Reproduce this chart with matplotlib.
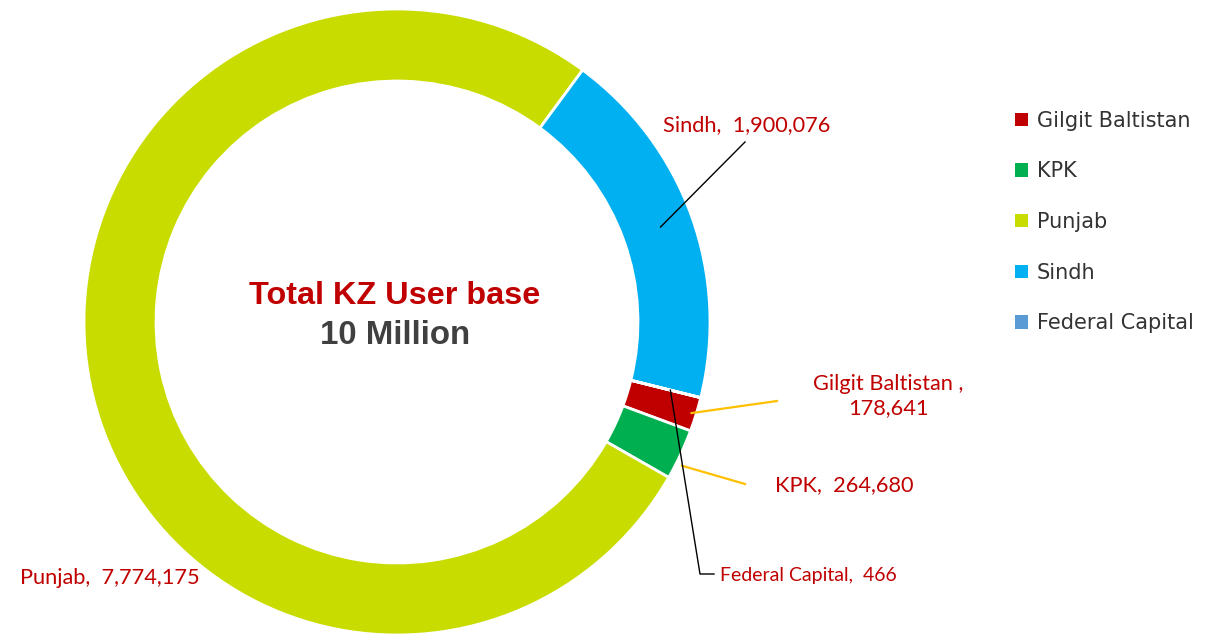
""" Donut chart of KZ user base by province. """

import numpy as np
from matplotlib import pyplot as plt
from matplotlib.patches import Patch

# Data (order as in the legend, drawn clockwise)
regions = ['Gilgit Baltistan', 'KPK', 'Punjab', 'Sindh', 'Federal Capital']
users = [178641, 264680, 7774175, 1900076, 466]
colors = ['#C00000', '#00B050', '#C9DC00', '#00B0F0', '#5B9BD5']

W, H = 1219, 634
red = '#C00000'


def py(y):
    # image row -> data y (axes spans the whole figure in pixels)
    return H - y


fig = plt.figure(figsize=(W / 100, H / 100), dpi=100)
ax = fig.add_axes([0, 0, 1, 1])
ax.set_xlim(0, W)
ax.set_ylim(0, H)
ax.axis('off')

# Donut
cx, cy, R = 397, py(322), 313
wedges, _ = ax.pie(users, colors=colors, radius=R, center=(cx, cy),
                   startangle=-14, counterclock=False,
                   wedgeprops=dict(width=72, edgecolor='white', linewidth=2))
ax.set_xlim(0, W)
ax.set_ylim(0, H)
ax.set_aspect('equal')


def anchor(w, rfrac, dth=0.):
    th = np.deg2rad(0.5 * (w.theta1 + w.theta2) + dth)
    return cx + rfrac * R * np.cos(th), cy + rfrac * R * np.sin(th)


lab_font = dict(family=['Lato', 'DejaVu Sans'], fontsize=15.7, color=red)

# Sindh
ax0, ay0 = anchor(wedges[3], 0.895)
ax.plot([ax0, 745], [ay0, py(142)], color='k', lw=1)
ax.text(747, py(125), f'Sindh,  {users[3]:,}', ha='center', va='center', **lab_font)

# Gilgit Baltistan
ax0, ay0 = anchor(wedges[0], 0.985)
ax.plot([ax0, 777], [ay0, py(401)], color='#FFC000', lw=1.6)
ax.text(888, py(396), f'Gilgit Baltistan ,\n{users[0]:,}', ha='center', va='center',
        linespacing=1.3, **lab_font)

# KPK
ax0, ay0 = anchor(wedges[1], 1.02, -1.7)
ax.plot([ax0, 745], [ay0, py(484)], color='#FFC000', lw=1.6)
ax.text(844, py(485), f'KPK,  {users[1]:,}', ha='center', va='center', **lab_font)

# Federal Capital
ax0, ay0 = anchor(wedges[4], 0.9)
ax.plot([ax0, 700, 714], [ay0, py(574), py(574)], color='k', lw=1)
ax.text(720, py(576), f'Federal Capital,  {users[4]:,}', ha='left', va='center',
        family=['Lato', 'DejaVu Sans'], fontsize=14, color=red)

# Punjab
ax.text(20, py(578), f'Punjab,  {users[2]:,}', ha='left', va='center', **lab_font)

# Centre text
ax.text(cx - 2, py(296), 'Total KZ User base', ha='center', va='center',
        family='Liberation Sans', fontweight='bold', fontsize=23.3, color=red)
ax.text(cx - 2, py(336), '10 Million', ha='center', va='center',
        family='Liberation Sans', fontweight='bold', fontsize=23.8, color='#404040')

# Legend
handles = [Patch(facecolor=c, edgecolor='none') for c in colors]
ax.legend(handles, regions, loc='upper left', bbox_to_anchor=(996 / W, 1 - 92 / H),
          frameon=False, handlelength=0.62, handleheight=0.62, handletextpad=0.45,
          labelspacing=1.47, prop=dict(family='DejaVu Sans', size=15),
          labelcolor='#333333')

plt.savefig('out.png', dpi=100)
print('Saved: out.png')
